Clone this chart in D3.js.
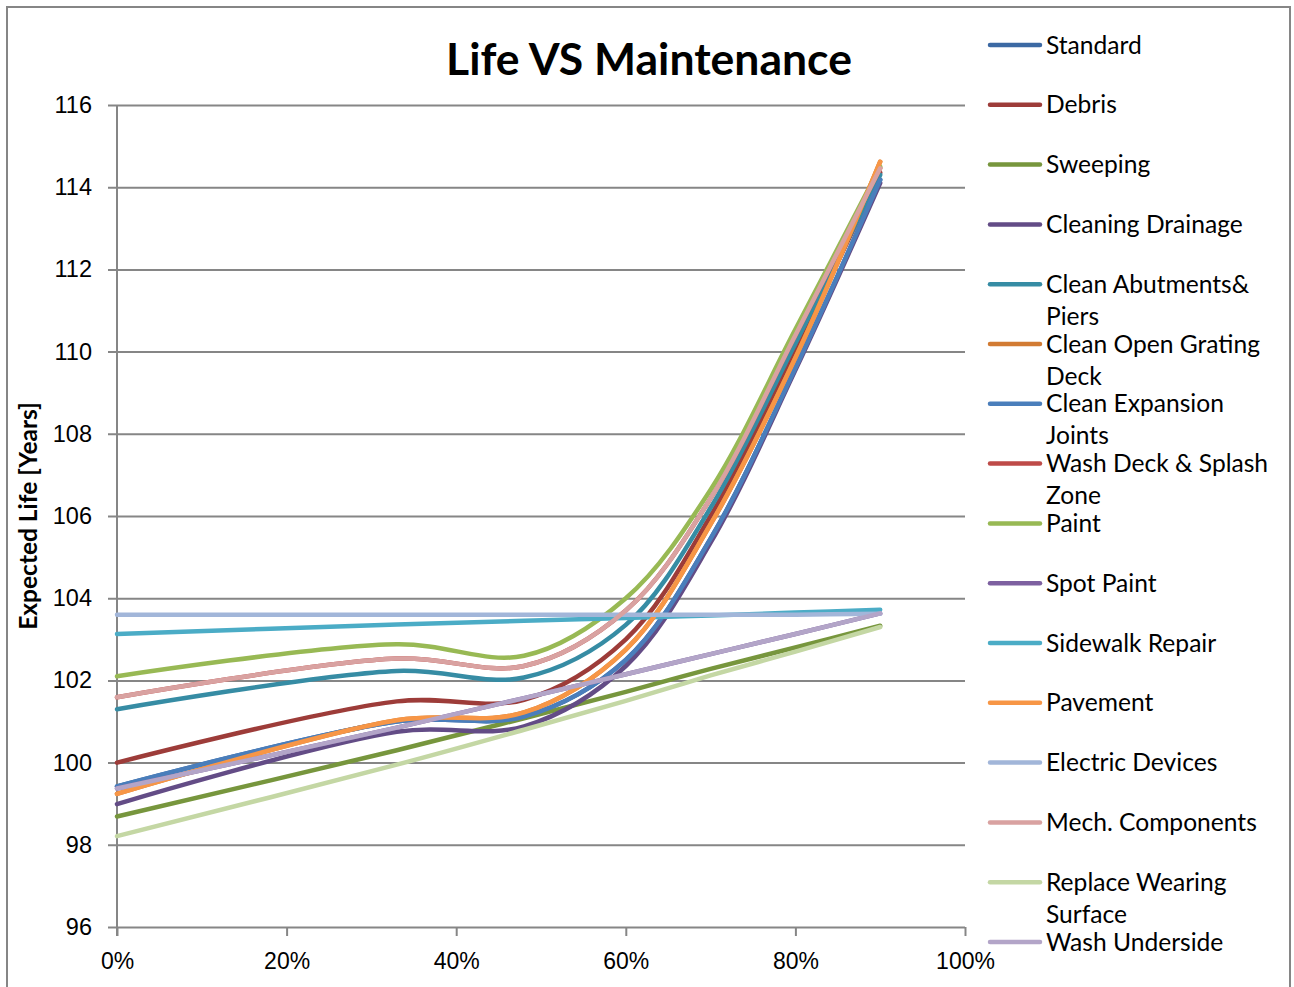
<!DOCTYPE html>
<html>
<head>
<meta charset="utf-8">
<script src="https://cdn.jsdelivr.net/npm/d3@7"></script>
<style>
  html, body { margin: 0; padding: 0; background: #fff; }
  svg { display: block; font-family: Lato, "Open Sans", sans-serif; }
</style>
</head>
<body>
<script>
const maintenance = [0, 0.33, 0.48, 0.6, 0.7, 0.8, 0.9];

const seriesNames = [
  "Standard", "Debris", "Sweeping", "Cleaning Drainage", "Clean Abutments& Piers",
  "Clean Open Grating Deck", "Clean Expansion Joints", "Wash Deck & Splash Zone",
  "Paint", "Spot Paint", "Sidewalk Repair", "Pavement", "Electric Devices",
  "Mech. Components", "Replace Wearing Surface", "Wash Underside"
];

// expected life [years] per series, one value per maintenance step
const standard         = [99.42, 101.0, 101.12, 102.5, 105.45, 109.6, 114.18];
const debris           = [100.0, 101.49, 101.53, 103.0, 106.0, 110.05, 114.35];
const sweeping         = [98.69, 100.3, 101.08, 101.72, 102.28, 102.8, 103.33];
const cleaningDrainage = [98.99, 100.75, 100.88, 102.35, 105.35, 109.55, 114.1];
const cleanAbutments   = [101.3, 102.23, 102.07, 103.35, 106.2, 110.2, 114.3];
const cleanGrating     = [99.24, 101.03, 101.22, 102.75, 105.8, 109.85, 114.62];
const cleanJoints      = [99.42, 101.0, 101.12, 102.5, 105.45, 109.6, 114.18];
const washDeck         = [101.59, 102.53, 102.35, 103.7, 106.43, 110.4, 114.46];
const paint            = [102.1, 102.88, 102.6, 104.0, 106.64, 110.54, 114.5];
const spotPaint        = [99.37, 100.85, 101.57, 102.15, 102.64, 103.13, 103.63];
const sidewalkRepair   = [103.13, 103.36, 103.45, 103.52, 103.58, 103.65, 103.72];
const pavement         = [99.24, 101.03, 101.22, 102.75, 105.8, 109.85, 114.62];
const electricDevices  = [103.6, 103.6, 103.6, 103.6, 103.6, 103.6, 103.62];
const mechComponents   = [101.59, 102.53, 102.35, 103.7, 106.43, 110.4, 114.46];
const replaceWearing   = [98.21, 99.95, 100.8, 101.5, 102.12, 102.7, 103.3];
const washUnderside    = [99.37, 100.85, 101.57, 102.15, 102.64, 103.13, 103.63];

const seriesValues = [
  standard, debris, sweeping, cleaningDrainage, cleanAbutments, cleanGrating,
  cleanJoints, washDeck, paint, spotPaint, sidewalkRepair, pavement,
  electricDevices, mechComponents, replaceWearing, washUnderside
];

const yTicks = [96, 98, 100, 102, 104, 106, 108, 110, 112, 114, 116];
const xTicks = [0, 0.2, 0.4, 0.6, 0.8, 1];

// Excel 2010 style palette: darker shades, base accents, lighter tints
const colors = [
  "#3c69a3", "#9d3c39", "#77963d", "#634c86", "#368ca4", "#d27b33",
  "#4a7ebb", "#be4b48", "#98b954", "#7d60a0", "#4bacc6", "#f79646",
  "#a2b6d9", "#d9a2a1", "#c4d7a4", "#b3a5c8"
];

const width = 1294, height = 987;
const plot = {left: 117, right: 965, top: 105, bottom: 927};

const svg = d3.select("body").append("svg")
  .attr("width", width)
  .attr("height", height);

svg.append("rect")
  .attr("x", 7).attr("y", 7)
  .attr("width", 1283).attr("height", 1000)
  .attr("fill", "#fff")
  .attr("stroke", "#868686")
  .attr("stroke-width", 2);

const x = d3.scaleLinear().domain([0, 1]).range([plot.left, plot.right]);
const y = d3.scaleLinear().domain([96, 116]).range([plot.bottom, plot.top]);

// gridlines + left ticks
const yAxis = svg.append("g")
  .attr("transform", `translate(${plot.left},0)`)
  .call(d3.axisLeft(y).tickValues(yTicks).tickFormat(d3.format("d")).tickSizeOuter(0).tickSizeInner(0).tickPadding(25));
yAxis.select(".domain").remove();
yAxis.selectAll(".tick line").remove();
yAxis.selectAll(".tick").append("line")
  .attr("x1", -9).attr("x2", plot.right - plot.left)
  .attr("stroke", "#868686").attr("stroke-width", 2);
yAxis.selectAll("text")
  .attr("fill", "#000")
  .style("font-size", "23.5px");

const xAxis = svg.append("g")
  .attr("transform", `translate(0,${plot.bottom})`)
  .call(d3.axisBottom(x).tickValues(xTicks).tickFormat(d3.format(".0%")).tickSizeInner(9).tickSizeOuter(0).tickPadding(17));
xAxis.select(".domain").remove();
xAxis.selectAll(".tick line").attr("stroke", "#868686").attr("stroke-width", 2);
xAxis.selectAll("text")
  .attr("fill", "#000")
  .style("font-size", "23px");

// vertical axis line
svg.append("line")
  .attr("x1", plot.left).attr("x2", plot.left)
  .attr("y1", plot.top).attr("y2", plot.bottom + 9)
  .attr("stroke", "#868686").attr("stroke-width", 2);

// series lines (Excel "smoothed line" look)
const line = d3.line()
  .x((d, i) => x(maintenance[i]))
  .y(d => y(d))
  .curve(d3.curveCatmullRom.alpha(0.5));

svg.append("g")
  .attr("fill", "none")
  .attr("stroke-linecap", "round")
  .attr("stroke-linejoin", "round")
  .selectAll("path")
  .data(seriesValues)
  .join("path")
  .attr("d", line)
  .attr("stroke", (d, i) => colors[i])
  .attr("stroke-width", 4.5);

// title
svg.append("text")
  .attr("x", 649).attr("y", 75)
  .attr("text-anchor", "middle")
  .style("font-size", "44.5px")
  .style("font-weight", "bold")
  .text("Life VS Maintenance");

// y axis title
svg.append("text")
  .attr("transform", "translate(37,516) rotate(-90)")
  .attr("text-anchor", "middle")
  .style("font-size", "24.5px")
  .style("font-weight", "bold")
  .text("Expected Life [Years]");

// legend
const legendTop = 45, legendStep = 59.8, lineGap = 32, maxLabel = 228;
const legend = svg.append("g").style("font-size", "24.6px");

seriesNames.forEach((name, i) => {
  const cy = legendTop + i * legendStep;
  legend.append("line")
    .attr("x1", 990).attr("x2", 1040)
    .attr("y1", cy).attr("y2", cy)
    .attr("stroke", colors[i])
    .attr("stroke-width", 4.5)
    .attr("stroke-linecap", "round");

  const text = legend.append("text").attr("x", 1046).attr("y", cy).attr("dy", "0.35em");
  // greedy wrap like Excel does
  const words = name.split(" ");
  let lines = [], cur = [];
  words.forEach(w => {
    cur.push(w);
    text.text(cur.join(" "));
    if (text.node().getComputedTextLength() > maxLabel && cur.length > 1) {
      cur.pop();
      lines.push(cur.join(" "));
      cur = [w];
    }
  });
  lines.push(cur.join(" "));
  text.text(null);
  lines.forEach((l, j) => {
    text.append("tspan")
      .attr("x", 1046)
      .attr("y", cy + j * lineGap)
      .attr("dy", "0.35em")
      .text(l);
  });
});
</script>
</body>
</html>
